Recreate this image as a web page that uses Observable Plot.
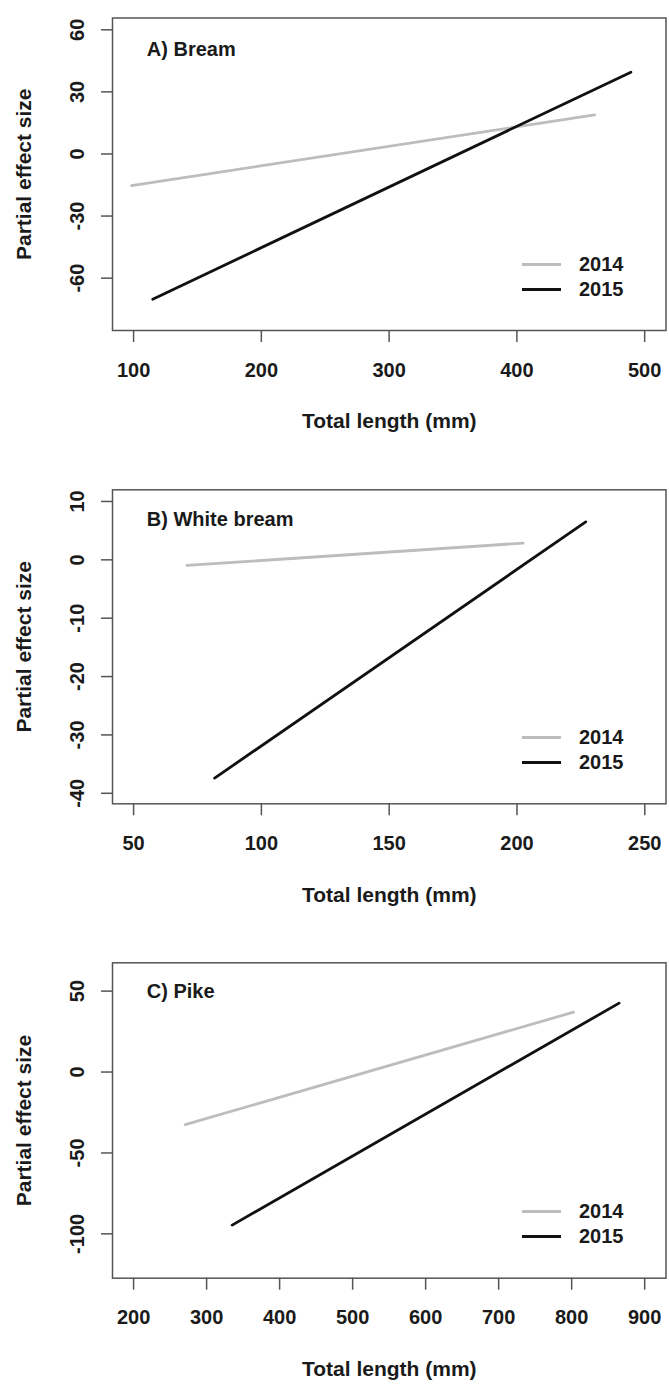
<!DOCTYPE html>
<html><head><meta charset="utf-8">
<script src="https://cdn.jsdelivr.net/npm/d3@7"></script>
<script src="https://cdn.jsdelivr.net/npm/@observablehq/plot@0.6"></script>
<style>
body{margin:0;background:#fff;font-family:"Liberation Sans",Arial,Helvetica,sans-serif;}
.panel{position:relative;width:669px;overflow:visible;}
.panel svg{position:relative;z-index:1;}
.lrow{position:absolute;z-index:2;left:522px;height:24px;display:flex;align-items:center;font-weight:bold;font-size:20px;color:#1a1a1a;}
.lrow span.sw{display:inline-block;width:39px;height:3px;margin-right:18px;}
</style></head><body><div id="chart"></div>
<script>
// ---- data ----
const years = ["2014", "2015"];
const yearColors = ["#bdbdbd", "#111111"];

// A) Bream
const breamLength2014 = [98.4, 460.9];
const breamEffect2014 = [-15.3, 18.9];
const breamLength2015 = [115, 489.2];
const breamEffect2015 = [-70.2, 39.5];
const breamXTicks = [100, 200, 300, 400, 500];
const breamYTicks = [-60, -30, 0, 30, 60];

// B) White bream
const whiteLength2014 = [70.9, 202.4];
const whiteEffect2014 = [-0.96, 2.86];
const whiteLength2015 = [81.7, 226.9];
const whiteEffect2015 = [-37.4, 6.5];
const whiteXTicks = [50, 100, 150, 200, 250];
const whiteYTicks = [-40, -30, -20, -10, 0, 10];

// C) Pike
const pikeLength2014 = [270.7, 802.6];
const pikeEffect2014 = [-32.5, 37.0];
const pikeLength2015 = [335, 865];
const pikeEffect2015 = [-94.6, 42.6];
const pikeXTicks = [200, 300, 400, 500, 600, 700, 800, 900];
const pikeYTicks = [-100, -50, 0, 50];

const titles = ["A) Bream", "B) White bream", "C) Pike"];

function rows(l14, e14, l15, e15) {
  const r = [];
  l14.forEach((x, i) => r.push({year: years[0], length: x, effect: e14[i]}));
  l15.forEach((x, i) => r.push({year: years[1], length: x, effect: e15[i]}));
  return r;
}

const panels = [
  {title: titles[0], data: rows(breamLength2014, breamEffect2014, breamLength2015, breamEffect2015),
   xTicks: breamXTicks, yTicks: breamYTicks, xDomain: [83.5, 516.7], yDomain: [-85.3, 65.7],
   height: 450, mt: 17.5, mb: 120, titleDy: 32},
  {title: titles[1], data: rows(whiteLength2014, whiteEffect2014, whiteLength2015, whiteEffect2015),
   xTicks: whiteXTicks, yTicks: whiteYTicks, xDomain: [41.75, 258.3], yDomain: [-41.8, 12.0],
   height: 450, mt: 39.3, mb: 96.7, titleDy: 30},
  {title: titles[2], data: rows(pikeLength2014, pikeEffect2014, pikeLength2015, pikeEffect2015),
   xTicks: pikeXTicks, yTicks: pikeYTicks, xDomain: [171.1, 929.2], yDomain: [-127.4, 67.5],
   height: 485, mt: 62.3, mb: 107.3, titleDy: 28.5}
];

const root = document.getElementById("chart");
const font = '"Liberation Sans", Arial, Helvetica, sans-serif';

panels.forEach(p => {
  const div = document.createElement("div");
  div.className = "panel";
  div.style.height = p.height + "px";
  const plot = Plot.plot({
    width: 669,
    height: p.height,
    marginTop: p.mt,
    marginBottom: p.mb,
    marginLeft: 112,
    marginRight: 3.5,
    style: {fontFamily: font, color: "#1a1a1a", background: "transparent", overflow: "visible"},
    x: {domain: p.xDomain},
    y: {domain: p.yDomain},
    color: {domain: years, range: yearColors},
    marks: [
      Plot.axisX(p.xTicks, {tickSize: 12, tickPadding: 20, fontSize: 20, fontWeight: "bold",
        stroke: "#555", strokeWidth: 1.5, label: null, tickFormat: d => String(d)}),
      Plot.axisY(p.yTicks, {tickSize: 11, stroke: "#555", strokeWidth: 1.5, label: null, tickFormat: () => ""}),
      Plot.text(p.yTicks, {y: d => d, frameAnchor: "left", dx: -35, rotate: -90, text: d => String(d),
        fontSize: 20, fontWeight: "bold", textAnchor: "middle", lineAnchor: "middle", fill: "#1a1a1a"}),
      Plot.text(["Partial effect size"], {frameAnchor: "left", dx: -88.5, rotate: -90,
        fontSize: 21, fontWeight: "bold", textAnchor: "middle", lineAnchor: "middle", fill: "#1a1a1a"}),
      Plot.text(["Total length (mm)"], {frameAnchor: "bottom", dy: 91,
        fontSize: 21, fontWeight: "bold", textAnchor: "middle", lineAnchor: "middle", fill: "#1a1a1a"}),
      Plot.text([p.title], {frameAnchor: "top-left", dx: 34.3, dy: p.titleDy,
        fontSize: 20, fontWeight: "bold", textAnchor: "start", lineAnchor: "middle", fill: "#1a1a1a"}),
      Plot.line(p.data, {x: "length", y: "effect", z: "year", stroke: "year", strokeWidth: 2.8}),
      Plot.frame({stroke: "#555", strokeWidth: 1.5})
    ]
  });
  div.appendChild(plot);
  const boxBottom = p.height - p.mb;
  [66, 41].forEach((off, i) => {
    const r = document.createElement("div");
    r.className = "lrow";
    r.style.top = (boxBottom - off - 12) + "px";
    const sw = document.createElement("span");
    sw.className = "sw";
    sw.style.background = yearColors[i];
    r.appendChild(sw);
    r.appendChild(document.createTextNode(years[i]));
    div.appendChild(r);
  });
  root.appendChild(div);
});
</script></body></html>
